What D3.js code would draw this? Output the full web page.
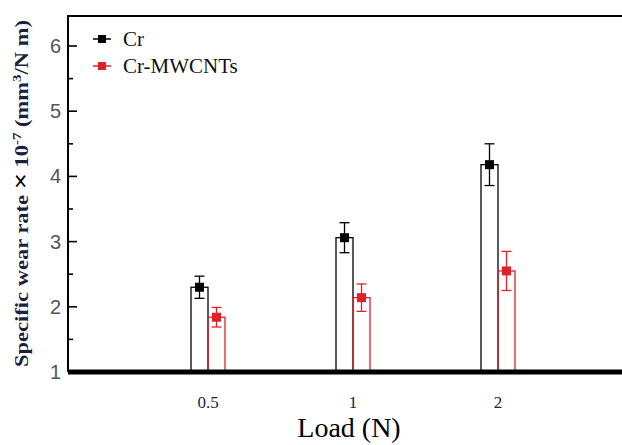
<!DOCTYPE html>
<html>
<head>
<meta charset="utf-8">
<script src="https://cdn.jsdelivr.net/npm/d3@7"></script>
<style>
  body { margin: 0; background: #fff; }
  svg { display: block; }
</style>
</head>
<body>
<svg id="chart" width="622" height="445"></svg>
<script>
// loads on the x axis
const loads = ["0.5", "1", "2"];
// specific wear rate (x 1e-7 mm3/N m)
const crValues = [2.30, 3.06, 4.18];
const crErrors = [0.17, 0.23, 0.32];
const cntValues = [1.84, 2.14, 2.55];
const cntErrors = [0.15, 0.21, 0.30];
const yTicks = [1, 2, 3, 4, 5, 6];
const yMinorTicks = [1.5, 2.5, 3.5, 4.5, 5.5];

const series = [
  { name: "Cr", color: "#000", values: crValues, errors: crErrors, side: -1 },
  { name: "Cr-MWCNTs", color: "#e0202a", values: cntValues, errors: cntErrors, side: 1 }
];

const svg = d3.select("#chart");
const plotL = 68, plotR = 622, plotT = 16, plotB = 372;

// categories are evenly spaced
let x = d3.scaleLinear().domain([0, loads.length - 1]).range([208, 498]);
let y = d3.scaleLinear().domain([1, 1 + (plotB - plotT) / 65.2]).range([plotB, plotT]);
const barW = 17;

// bars
series.forEach(s => {
  let g = svg.append("g");
  g.selectAll("rect").data(s.values).join("rect")
    .attr("x", (d, i) => s.side < 0 ? x(i) - barW : x(i))
    .attr("y", d => y(d))
    .attr("width", barW)
    .attr("height", d => y(1) - y(d))
    .attr("fill", "none")
    .attr("stroke", s.color)
    .attr("stroke-width", 1.3);

  // error bars
  let eb = g.selectAll("g.err").data(s.values).join("g").attr("class", "err");
  eb.append("line")
    .attr("x1", (d, i) => x(i) + s.side * barW / 2)
    .attr("x2", (d, i) => x(i) + s.side * barW / 2)
    .attr("y1", (d, i) => y(d + s.errors[i]))
    .attr("y2", (d, i) => y(d - s.errors[i]))
    .attr("stroke", s.color).attr("stroke-width", 1.3);
  [1, -1].forEach(sign => {
    eb.append("line")
      .attr("x1", (d, i) => x(i) + s.side * barW / 2 - 5)
      .attr("x2", (d, i) => x(i) + s.side * barW / 2 + 5)
      .attr("y1", (d, i) => y(d + sign * s.errors[i]))
      .attr("y2", (d, i) => y(d + sign * s.errors[i]))
      .attr("stroke", s.color).attr("stroke-width", 1.3);
  });
  eb.append("rect")
    .attr("x", (d, i) => x(i) + s.side * barW / 2 - 4.5)
    .attr("y", d => y(d) - 4.5)
    .attr("width", 9).attr("height", 9)
    .attr("fill", s.color);
});

// frame: top line, left axis, thick bottom line
svg.append("line").attr("x1", plotL).attr("x2", plotR).attr("y1", plotT).attr("y2", plotT)
  .attr("stroke", "#000").attr("stroke-width", 2);
svg.append("line").attr("x1", plotL).attr("x2", plotL).attr("y1", plotT - 1).attr("y2", plotB)
  .attr("stroke", "#000").attr("stroke-width", 2);

// y ticks point inward
svg.selectAll("line.major").data(yTicks).join("line").attr("class", "major")
  .attr("x1", plotL).attr("x2", plotL + 9)
  .attr("y1", d => y(d)).attr("y2", d => y(d))
  .attr("stroke", "#000").attr("stroke-width", 1.6);
svg.selectAll("line.minor").data(yMinorTicks).join("line").attr("class", "minor")
  .attr("x1", plotL).attr("x2", plotL + 5)
  .attr("y1", d => y(d)).attr("y2", d => y(d))
  .attr("stroke", "#000").attr("stroke-width", 1.6);
svg.selectAll("text.ytick").data(yTicks).join("text").attr("class", "ytick")
  .attr("x", plotL - 7).attr("y", d => y(d) + 7)
  .attr("text-anchor", "end")
  .style("font-family", "Liberation Sans, Arial, sans-serif")
  .style("font-size", "20px").attr("fill", "#555")
  .text(d => d);

svg.append("line").attr("x1", plotL).attr("x2", plotR).attr("y1", plotB).attr("y2", plotB)
  .attr("stroke", "#000").attr("stroke-width", 5);

// x tick labels
svg.selectAll("text.xtick").data(loads).join("text").attr("class", "xtick")
  .attr("x", (d, i) => x(i)).attr("y", 408)
  .attr("text-anchor", "middle")
  .style("font-family", "Liberation Serif, Times New Roman, serif")
  .style("font-size", "17px").attr("fill", "#1c2340")
  .text(d => d);

svg.append("text")
  .attr("x", 349).attr("y", 437)
  .attr("text-anchor", "middle")
  .style("font-family", "Liberation Serif, Times New Roman, serif")
  .style("font-size", "28px").attr("fill", "#000")
  .text("Load (N)");

// y label, stretched along its length like the original
let ylg = svg.append("g");
let yl = ylg.append("text")
  .attr("text-anchor", "middle")
  .style("font-family", "Liberation Serif, Times New Roman, serif")
  .style("font-size", "18px").style("font-weight", "bold")
  .attr("fill", "#1d1f3f");
yl.append("tspan").text("Specific wear rate ");
yl.append("tspan").style("font-family", "Liberation Sans, Arial, sans-serif")
  .style("font-weight", "normal").attr("fill", "#000").style("font-size", "22px").text("×");
yl.append("tspan").text(" 10");
yl.append("tspan").attr("dy", -7).style("font-size", "12px").text("-7");
yl.append("tspan").attr("dy", 7).text(" (mm");
yl.append("tspan").attr("dy", -7).style("font-size", "12px").text("3");
yl.append("tspan").attr("dy", 7).text("/N m)");
let len = yl.node().getComputedTextLength();
let stretch = 347 / len;
ylg.attr("transform", "translate(28," + (20 + 367) / 2 + ") rotate(-90) scale(" + stretch + ",1)");

// legend
let leg = svg.selectAll("g.leg").data(series).join("g").attr("class", "leg")
  .attr("transform", (d, i) => "translate(93," + (39 + i * 27) + ")");
leg.append("line").attr("x1", 0).attr("x2", 18)
  .attr("stroke", d => d.color).attr("stroke-width", 1.5);
leg.append("rect").attr("x", 5).attr("y", -4).attr("width", 8).attr("height", 8)
  .attr("fill", d => d.color);
leg.append("text").attr("x", 30).attr("y", 7)
  .style("font-family", "Liberation Serif, Times New Roman, serif")
  .style("font-size", "21px").attr("fill", "#111")
  .text(d => d.name);
</script>
</body>
</html>
